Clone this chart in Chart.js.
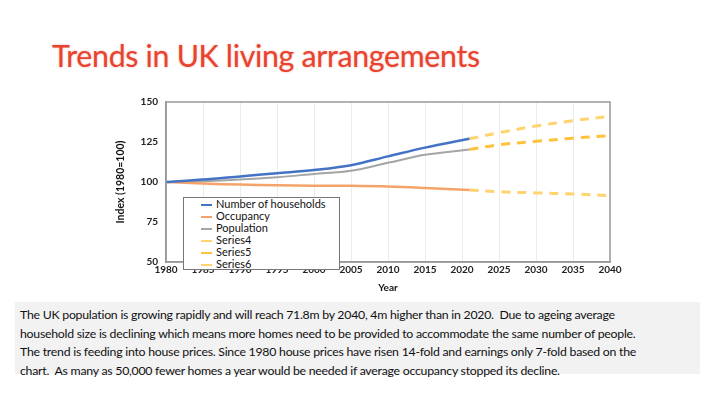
<!DOCTYPE html>
<html>
<head>
<meta charset="utf-8">
<script src="https://cdn.jsdelivr.net/npm/chart.js@4/dist/chart.umd.min.js"></script>
<style>
  body { margin: 0; width: 706px; height: 398px; background: #fff; position: relative; overflow: hidden; font-family: Lato, "Open Sans", sans-serif; }
  #title { position: absolute; left: 52px; top: 37px; font-size: 30.3px; color: #e8432f; text-shadow: 0 0 2px rgba(232,67,47,0.45); letter-spacing: -0.3px; }
  #wrap { position: absolute; left: 110px; top: 88px; width: 515px; height: 210px; }
  #legend { position: absolute; left: 183px; top: 197px; width: 157px; height: 73px; background: #fff; border: 1px solid #777; box-sizing: border-box; padding: 0 0 0 17px; font-size: 11px; color: #111; }
  #legend div { height: 12px; line-height: 12px; white-space: nowrap; }
  #legend span { display: inline-block; width: 11px; height: 2px; vertical-align: middle; margin-right: 4px; }
  #note { position: absolute; left: 15px; top: 302px; width: 685px; height: 72px; background: #f2f2f2; padding: 4px 0 0 5px; box-sizing: border-box; font-size: 12.3px; line-height: 18.5px; color: #111; letter-spacing: -0.25px; white-space: nowrap; }
</style>
</head>
<body>
<div id="title">Trends in UK living arrangements</div>
<div id="wrap"><canvas id="chart"></canvas></div>
<div id="legend"></div>
<div id="note">The UK population is growing rapidly and will reach 71.8m by 2040, 4m higher than in 2020.&nbsp; Due to ageing average<br>household size is declining which means more homes need to be provided to accommodate the same number of people.<br>The trend is feeding into house prices. Since 1980 house prices have risen 14-fold and earnings only 7-fold based on the<br>chart.&nbsp; As many as 50,000 fewer homes a year would be needed if average occupancy stopped its decline.</div>
<script>
  // Años observados y proyectados
  const years = [1980, 1985, 1990, 1995, 2000, 2005, 2010, 2015, 2021];
  const projYears = [2021, 2025, 2030, 2035, 2040];

  // Índices (1980=100)
  const households = [100, 101.5, 103.5, 105.5, 107.5, 110.5, 116, 121.5, 127];
  const occupancy = [100, 99, 98.4, 98, 97.7, 97.6, 97.2, 96.3, 95];
  const population = [100, 100.5, 101.5, 103, 105, 107, 112, 117, 120.3];
  const series4 = [127, 130.8, 135, 138.3, 141];
  const series5 = [120.3, 123.3, 125.4, 127.4, 129];
  const series6 = [95, 93.9, 93.2, 92.5, 91.5];

  const xTicks = [1980, 1985, 1990, 1995, 2000, 2005, 2010, 2015, 2020, 2025, 2030, 2035, 2040];
  const yTicks = [50, 75, 100, 125, 150];

  const pts = (xs, ys) => xs.map((x, i) => ({ x: x, y: ys[i] }));

  const datasets = [
    { label: 'Number of households', data: pts(years, households), borderColor: '#4472c4', borderWidth: 2.5 },
    { label: 'Occupancy', data: pts(years, occupancy), borderColor: '#f4a46a', borderWidth: 2.5 },
    { label: 'Population', data: pts(years, population), borderColor: '#a5a5a5', borderWidth: 2 },
    { label: 'Series4', data: pts(projYears, series4), borderColor: '#ffd36e', borderWidth: 3, borderDash: [9, 7] },
    { label: 'Series5', data: pts(projYears, series5), borderColor: '#ffc23d', borderWidth: 3, borderDash: [9, 7] },
    { label: 'Series6', data: pts(projYears, series6), borderColor: '#ffd36e', borderWidth: 3, borderDash: [9, 7] },
  ].map(d => Object.assign(d, { pointRadius: 0, tension: 0.35, fill: false }));

  const tickFont = { family: 'Lato', size: 10, weight: 'bold' };

  const chart = new Chart(document.getElementById('chart'), {
    type: 'line',
    data: { datasets: datasets },
    options: {
      responsive: true,
      maintainAspectRatio: false,
      animation: false,
      layout: { padding: { top: 10, right: 15, left: 0, bottom: 0 } },
      plugins: { legend: { display: false }, tooltip: { enabled: false } },
      scales: {
        x: {
          type: 'linear', min: 1980, max: 2040,
          afterBuildTicks: s => { s.ticks = xTicks.map(v => ({ value: v })); },
          afterFit: s => { s.height = 36; },
          ticks: { font: tickFont, color: '#222', padding: 2, maxRotation: 0, callback: v => String(v) },
          grid: { color: '#ececec', drawTicks: false },
          border: { color: '#999', width: 1.5 },
          title: { display: true, text: 'Year', font: { family: 'Lato', size: 10, weight: 'bold' }, color: '#111', padding: { top: 3 } }
        },
        y: {
          min: 50, max: 150,
          afterBuildTicks: s => { s.ticks = yTicks.map(v => ({ value: v })); },
          afterFit: s => { s.width = 56; },
          ticks: { font: tickFont, color: '#222', padding: 8 },
          grid: { display: false, drawTicks: false },
          border: { color: '#999', width: 1.5 },
          title: { display: true, text: 'Index (1980=100)', font: { family: 'Lato', size: 10.5, weight: 'bold' }, color: '#111', padding: { bottom: 2 } }
        }
      }
    },
    plugins: [{
      id: 'frame',
      afterDraw(c) {
        const a = c.chartArea, ctx = c.ctx;
        ctx.save();
        ctx.strokeStyle = '#999';
        ctx.lineWidth = 1.5;
        ctx.strokeRect(a.left, a.top, a.right - a.left, a.bottom - a.top);
        ctx.restore();
      }
    }]
  });

  // Leyenda en HTML a partir de los datasets
  document.getElementById('legend').innerHTML = chart.data.datasets.map(d =>
    '<div><span style="background:' + d.borderColor + '"></span>' + d.label + '</div>'
  ).join('');
</script>
</body>
</html>
